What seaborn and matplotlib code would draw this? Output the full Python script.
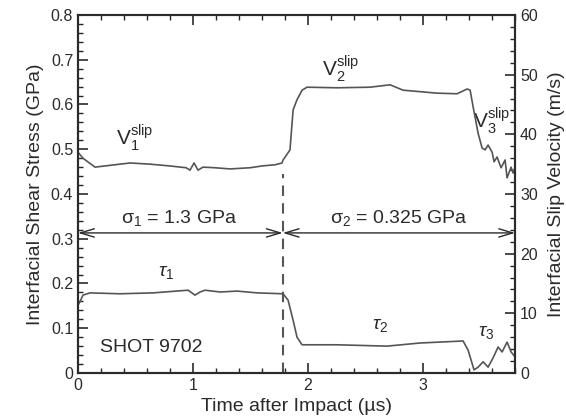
import numpy as np
import pandas as pd
import seaborn as sns
import matplotlib
matplotlib.use("Agg")
import matplotlib.pyplot as plt
from matplotlib.ticker import MultipleLocator, FuncFormatter

# slip velocity trace (right axis, m/s)
t_slip = [0.0, 0.043, 0.148, 0.235, 0.365, 0.452, 0.626, 0.80, 0.94, 0.974,
          1.009, 1.043, 1.087, 1.191, 1.322, 1.496, 1.60, 1.713, 1.774, 1.783,
          1.843, 1.87, 1.904, 1.948, 1.991, 2.252, 2.539, 2.713, 2.826, 3.122,
          3.296, 3.383, 3.409, 3.435, 3.478, 3.513, 3.539, 3.565, 3.60, 3.617,
          3.643, 3.678, 3.713, 3.730, 3.765, 3.783, 3.80]
v_slip = [37.0, 36.0, 34.5, 34.7, 35.0, 35.2, 35.0, 34.7, 34.4, 34.0,
          35.2, 34.0, 34.5, 34.4, 34.2, 34.4, 34.7, 34.9, 35.2, 35.7,
          37.4, 44.1, 45.8, 47.4, 47.9, 47.8, 47.9, 48.3, 47.4, 46.9,
          46.8, 47.6, 47.4, 44.6, 40.2, 37.7, 37.4, 38.2, 37.0, 35.4,
          36.2, 34.4, 35.7, 32.7, 34.5, 33.5, 34.5]

# interfacial shear stress trace (left axis, GPa)
t_tau = [0.0, 0.017, 0.043, 0.104, 0.365, 0.652, 0.957, 1.017, 1.061, 1.104,
         1.235, 1.383, 1.557, 1.783, 1.826, 1.87, 1.904, 1.948, 2.252, 2.687,
         2.974, 3.348, 3.391, 3.443, 3.478, 3.522, 3.565, 3.609, 3.652, 3.687,
         3.730, 3.765, 3.80]
tau = [0.152, 0.159, 0.174, 0.179, 0.177, 0.179, 0.185, 0.174, 0.181, 0.185,
       0.181, 0.183, 0.179, 0.177, 0.163, 0.118, 0.080, 0.063, 0.063, 0.060,
       0.067, 0.0715, 0.051, 0.007, 0.013, 0.025, 0.013, 0.034, 0.058, 0.047,
       0.069, 0.047, 0.036]

t_switch = 1.78
sigma_labels = [r"$\mathregular{\sigma_1}$ = 1.3 GPa", r"$\mathregular{\sigma_2}$ = 0.325 GPa"]

sns.set_style("ticks")
plt.rcParams["font.family"] = ["Liberation Sans", "DejaVu Sans"]
plt.rcParams["mathtext.fontset"] = "custom"
plt.rcParams["mathtext.rm"] = "Liberation Sans"
plt.rcParams["mathtext.it"] = "Liberation Sans:italic"
plt.rcParams["mathtext.bf"] = "Liberation Sans:bold"

ink = "#2b2b2b"
trace = "#555555"

fig = plt.figure(figsize=(5.66, 4.18), dpi=100)
ax = fig.add_axes([0.1378, 0.1077, 0.7723, 0.8564])
ax2 = ax.twinx()

df_tau = pd.DataFrame({"t": t_tau, "tau": tau})
df_v = pd.DataFrame({"t": t_slip, "v": v_slip})
sns.lineplot(data=df_tau, x="t", y="tau", ax=ax, color=trace, lw=1.2)
sns.lineplot(data=df_v, x="t", y="v", ax=ax2, color=trace, lw=1.2)

ax.set_xlim(0, 3.8)
ax.set_ylim(0, 0.8)
ax2.set_ylim(0, 60)

# dashed line at the normal stress switch
ax.plot([t_switch, t_switch], [0, 0.445], ls=(0, (5, 3.5)), color=trace, lw=1.5)

# double arrows for the two normal stress levels
for x0, x1 in [(0, t_switch), (t_switch, 3.8)]:
    ax.annotate("", xy=(x1, 0.313), xytext=(x0, 0.313),
                arrowprops=dict(arrowstyle="<->,head_length=1.0,head_width=0.3",
                                color=ink, lw=1.0, shrinkA=0, shrinkB=0))
ax.text(0.88, 0.325, sigma_labels[0], ha="center", va="bottom", fontsize=14, color=ink)
ax.text(2.79, 0.325, sigma_labels[1], ha="center", va="bottom", fontsize=14, color=ink)

ax.text(0.33, 0.525, r"$\mathregular{V_1^{slip}}$", fontsize=15, color=ink, ha="left", va="center")
ax.text(2.12, 0.68, r"$\mathregular{V_2^{slip}}$", fontsize=15, color=ink, ha="left", va="center")
ax.text(3.43, 0.565, r"$\mathregular{V_3^{slip}}$", fontsize=15, color=ink, ha="left", va="center")
ax.text(0.77, 0.225, r"$\tau_1$", fontsize=14, color=ink, ha="center", va="center")
ax.text(2.63, 0.107, r"$\tau_2$", fontsize=14, color=ink, ha="center", va="center")
ax.text(3.55, 0.09, r"$\tau_3$", fontsize=14, color=ink, ha="center", va="center")
ax.text(0.19, 0.058, "SHOT 9702", fontsize=14, color=ink, ha="left", va="center")

ax.xaxis.set_major_locator(MultipleLocator(1))
ax.xaxis.set_minor_locator(MultipleLocator(0.2))
ax.yaxis.set_major_locator(MultipleLocator(0.1))
ax.yaxis.set_minor_locator(MultipleLocator(0.02))
ax2.yaxis.set_major_locator(MultipleLocator(10))
ax2.yaxis.set_minor_locator(MultipleLocator(2))
ax.yaxis.set_major_formatter(FuncFormatter(lambda v, p: "0" if abs(v) < 1e-9 else f"{v:.1f}"))

ax.tick_params(axis="both", which="major", direction="in", length=7, width=1.2,
               labelsize=11.5, colors=ink, top=True)
ax.tick_params(axis="both", which="minor", direction="in", length=3.5, width=1.0, top=True)
ax.tick_params(axis="y", right=False)
ax2.tick_params(axis="y", which="major", direction="in", length=7, width=1.2,
                labelsize=11.5, colors=ink)
ax2.tick_params(axis="y", which="minor", direction="in", length=3.5, width=1.0)

for a in (ax, ax2):
    for s in a.spines.values():
        s.set_visible(True)
        s.set_linewidth(1.5)
        s.set_color(ink)

ax.set_xlabel("Time after Impact (µs)", fontsize=14, color=ink, labelpad=4)
ax.set_ylabel("Interfacial Shear Stress (GPa)", fontsize=14, color=ink, labelpad=5)
ax2.set_ylabel("Interfacial Slip Velocity (m/s)", fontsize=14, color=ink,
               rotation=90, labelpad=7)

fig.savefig("out.png", dpi=100)
